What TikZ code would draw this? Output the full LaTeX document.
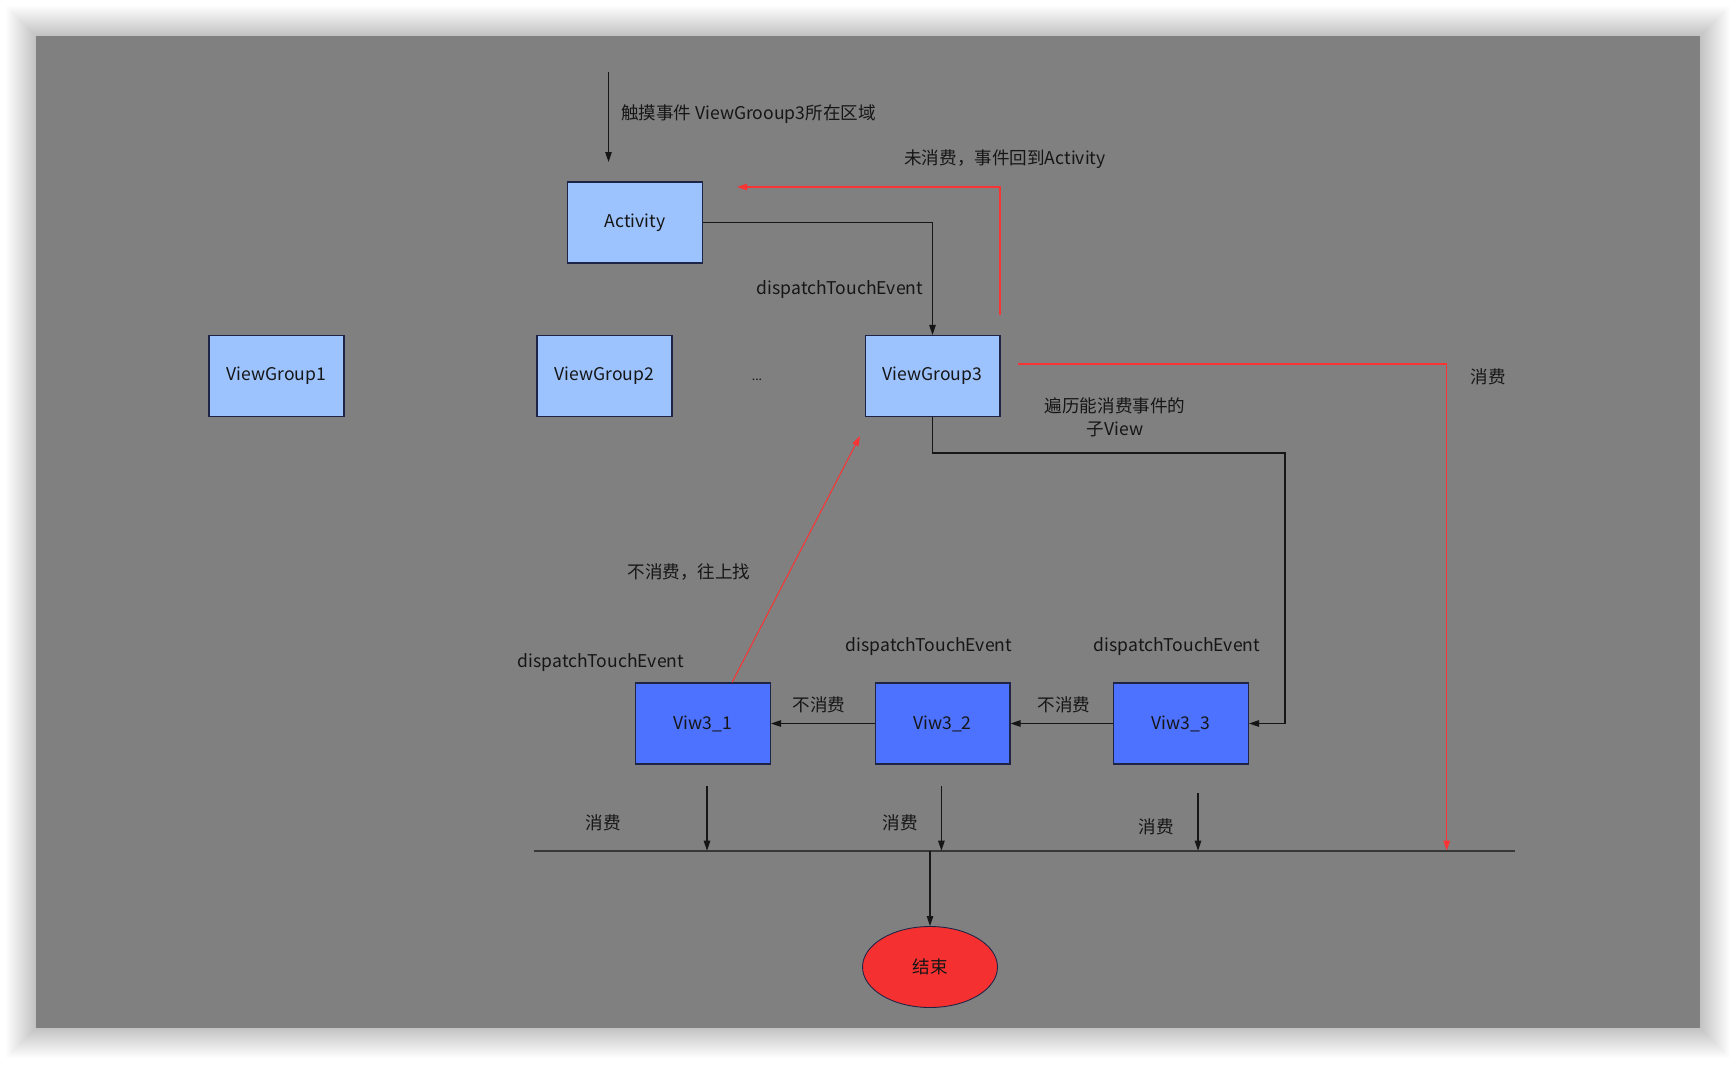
\documentclass[tikz,border=0pt]{standalone}
\usepackage{fontspec}
\setmainfont{Noto Sans CJK SC}
\usetikzlibrary{arrows.meta,shapes.geometric}

\definecolor{panelgray}{RGB}{128,128,128}
\definecolor{lightbox}{RGB}{157,195,255}
\definecolor{darkbox}{RGB}{77,114,255}
\definecolor{boxline}{RGB}{30,36,70}
\definecolor{redline}{RGB}{250,52,52}
\definecolor{endred}{RGB}{245,48,48}
\definecolor{inkgray}{RGB}{22,22,22}
\definecolor{busgray}{RGB}{55,55,55}

\begin{document}
\begin{tikzpicture}[
    x=0.02cm, y=-0.02cm,
    >={Triangle[length=2mm,width=1.3mm]},
    every node/.style={font=\fontsize{10}{13}\selectfont, text=inkgray, inner sep=1pt},
    lightnode/.style={draw=boxline, fill=lightbox, line width=0.6pt,
        minimum width=2.7cm, minimum height=1.62cm},
    viewnode/.style={lightnode, fill=darkbox},
    endnode/.style={ellipse, draw=boxline, fill=endred, line width=0.5pt,
        minimum width=2.7cm, minimum height=1.62cm, inner sep=0pt},
    flow/.style={->, draw=inkgray, line width=0.6pt},
    redflow/.style={->, draw=redline, line width=0.6pt},
    busline/.style={draw=busgray, line width=0.9pt}
]

% page, shadow and grey panel (px units)
\useasboundingbox (0,0) rectangle (1736,1064);
\fill[white] (0,0) rectangle (1736,1064);
\foreach \i in {1,...,30}
    \fill[black, opacity=0.006] (36-\i,36-\i) rectangle (1700+\i,1028+\i);
\fill[panelgray] (36,36) rectangle (1700,1028);

% Per-row y positions (px)
\def\ra{222.5}
\def\rb{376}
\def\rc{723.5}
\def\rbus{850.7}

% Activity and view groups
\node[lightnode] (act) at (635,\ra) {Activity};
\node[lightnode] (vg1) at (276.5,\rb) {ViewGroup1};
\node[lightnode] (vg2) at (604.5,\rb) {ViewGroup2};
\node (dots) at (757,380) {\scriptsize ...};
\node[lightnode] (vg3) at (932.5,\rb) {ViewGroup3};

% child views
\node[viewnode] (v1) at (703,\rc) {Viw3\_1};
\node[viewnode] (v2) at (942.5,\rc) {Viw3\_2};
\node[viewnode] (v3) at (1181,\rc) {Viw3\_3};

% end
\node[endnode] (end) at (930,967) {结束};

% free ends
\coordinate (touch) at (608.5,72);
\coordinate (touchtip) at (608.5,162);
\coordinate (back) at (1000,315);
\coordinate (backtip) at (737,187);
\coordinate (eat) at (1018,364);
\coordinate (eattip) at (1446.7,\rbus);
\coordinate (turn) at (1285,453);
\coordinate (uptip) at (860,436);
\coordinate (busl) at (534,\rbus);
\coordinate (busr) at (1515,\rbus);
\coordinate (drop) at (930,\rbus);
\coordinate (c1) at (707,786);
\coordinate (c2) at (941.4,786);
\coordinate (c3) at (1198,793);

% labels
\node[anchor=west] (ltouch) at (619,114) {触摸事件 ViewGrooup3所在区域};
\node (lback) at (1005,159) {未消费，事件回到Activity};
\node (ld0) at (840,290) {dispatchTouchEvent};
\node[align=center] (ltrav) at (1115,417) {遍历能消费事件的\\子View};
\node (leat) at (1488,377) {消费};
\node (lup) at (689,572) {不消费，往上找};
\node (ld1) at (601,663) {dispatchTouchEvent};
\node (ld2) at (929,647) {dispatchTouchEvent};
\node (ld3) at (1177,647) {dispatchTouchEvent};
\node (ln1) at (819,705) {不消费};
\node (ln2) at (1064,705) {不消费};
\node (le1) at (603,823) {消费};
\node (le2) at (900,823) {消费};
\node (le3) at (1156,827) {消费};

% black connectors
\draw[flow] (touch) -- (touchtip);
\draw[flow] (act.east) -| (vg3.north);
\draw[flow] (vg3.south) |- (turn) |- (v3.east);
\draw[flow] (v3.west) -- (v2.east);
\draw[flow] (v2.west) -- (v1.east);

% red connectors
\draw[redflow] (back) |- (backtip);
\draw[redflow] (eat) -| (eattip);
\draw[redflow] ([xshift=0.58cm]v1.north) -- (uptip);

% consumed -> bus -> end
\draw[busline] (busl) -- (busr);
\draw[flow] (c1) -- (c1 |- busl);
\draw[flow] (c2) -- (c2 |- busl);
\draw[flow] (c3) -- (c3 |- busl);
\draw[flow] (drop) -- (end.north);

\end{tikzpicture}
\end{document}
